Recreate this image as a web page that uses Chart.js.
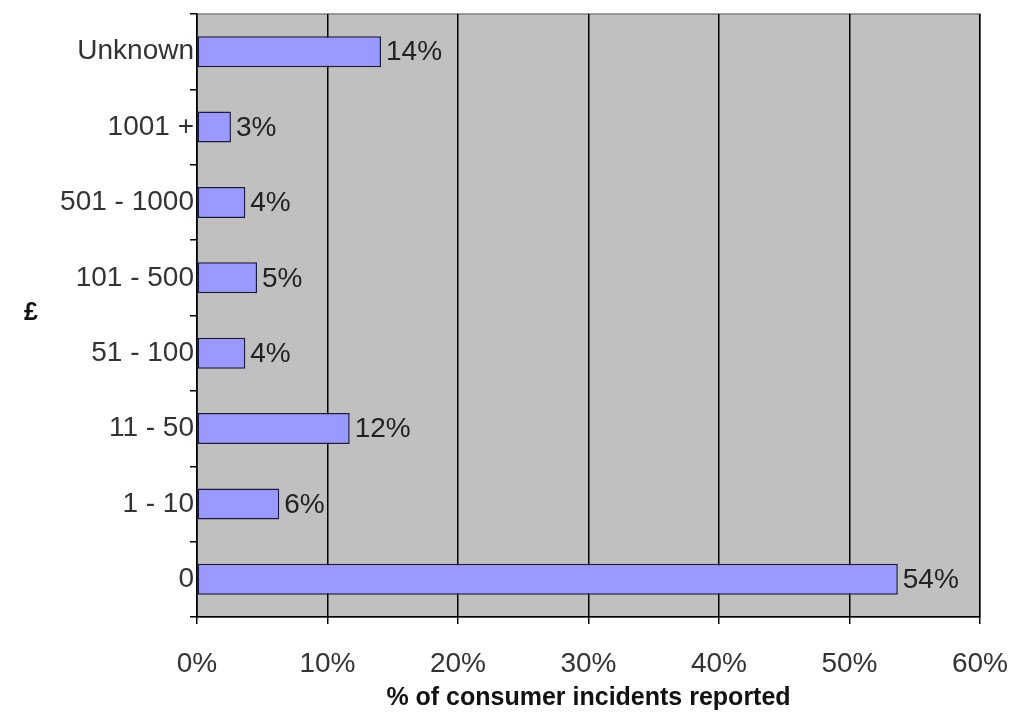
<!DOCTYPE html>
<html>
<head>
<meta charset="utf-8">
<script src="https://cdn.jsdelivr.net/npm/chart.js@4/dist/chart.umd.min.js"></script>
<style>
  html, body { margin: 0; padding: 0; background: #fff; }
  #wrap { width: 1016px; height: 713px; position: relative; }
</style>
</head>
<body>
<div id="wrap"><canvas id="chart"></canvas></div>
<script>
// ── Data ───────────────────────────────────────────────
const bands = ['Unknown', '1001 +', '501 - 1000', '101 - 500', '51 - 100', '11 - 50', '1 - 10', '0'];
const shares = [14.1, 2.6, 3.7, 4.6, 3.7, 11.7, 6.3, 53.7];
const shareLabels = ['14%', '3%', '4%', '5%', '4%', '12%', '6%', '54%'];
const xTicks = [0, 10, 20, 30, 40, 50, 60];

const FONT = "'Liberation Sans', Arial, sans-serif";

// grey plot area + thin border, as in the spreadsheet chart
const plotBackground = {
    id: 'plotBackground',
    beforeDraw(chart) {
        const { ctx, chartArea: a } = chart;
        ctx.save();
        ctx.fillStyle = '#c0c0c0';
        ctx.fillRect(a.left, a.top, a.right - a.left, a.bottom - a.top);
        ctx.strokeStyle = '#808080';
        ctx.lineWidth = 1.5;
        ctx.strokeRect(a.left, a.top, a.right - a.left, a.bottom - a.top);
        ctx.restore();
    }
};

// value labels right of each bar, plus the horizontal "£" axis title
const barLabels = {
    id: 'barLabels',
    afterDatasetsDraw(chart) {
        const { ctx } = chart;
        const meta = chart.getDatasetMeta(0);
        ctx.save();
        ctx.font = '28px ' + FONT;
        ctx.fillStyle = '#222';
        ctx.textAlign = 'left';
        ctx.textBaseline = 'middle';
        meta.data.forEach((bar, i) => {
            ctx.fillText(shareLabels[i], bar.x + 5, bar.y + 1);
        });
        ctx.font = 'bold 25px ' + FONT;
        ctx.fillStyle = '#111';
        ctx.textAlign = 'center';
        ctx.fillText('£', 31, 313);
        ctx.restore();
    }
};

new Chart(document.getElementById('chart'), {
    type: 'bar',
    data: {
        labels: bands,
        datasets: [{
            data: shares,
            backgroundColor: '#9999ff',
            borderColor: '#1a1a40',
            borderWidth: 1.5,
            borderSkipped: false,
            categoryPercentage: 0.41,
            barPercentage: 1
        }]
    },
    options: {
        indexAxis: 'y',
        responsive: true,
        maintainAspectRatio: false,
        animation: false,
        layout: { padding: { top: 14, right: 36, left: 0, bottom: 0 } },
        plugins: { legend: { display: false }, tooltip: { enabled: false } },
        scales: {
            x: {
                min: 0, max: 60,
                afterBuildTicks(scale) { scale.ticks = xTicks.map(v => ({ value: v })); },
                afterFit(scale) { scale.height = 96; scale.paddingRight = 0; scale.paddingLeft = 0; },
                grid: { color: '#000', lineWidth: 1.5, tickLength: 7, drawTicks: true },
                border: { color: '#000', width: 1.5 },
                ticks: {
                    color: '#333',
                    font: { family: FONT, size: 28 },
                    padding: 23,
                    maxRotation: 0,
                    callback: v => v + '%'
                },
                title: {
                    display: true,
                    text: '% of consumer incidents reported',
                    color: '#111',
                    font: { family: FONT, size: 25, weight: 'bold' },
                    padding: { top: 0, bottom: 0 }
                }
            },
            y: {
                afterFit(scale) { scale.width = 197; },
                grid: { offset: true, drawOnChartArea: false, color: '#000', lineWidth: 1.5, tickLength: 7 },
                border: { color: '#000', width: 1.5 },
                ticks: {
                    color: '#333',
                    font: { family: FONT, size: 28 },
                    padding: -4
                }
            }
        }
    },
    plugins: [plotBackground, barLabels]
});
</script>
</body>
</html>
